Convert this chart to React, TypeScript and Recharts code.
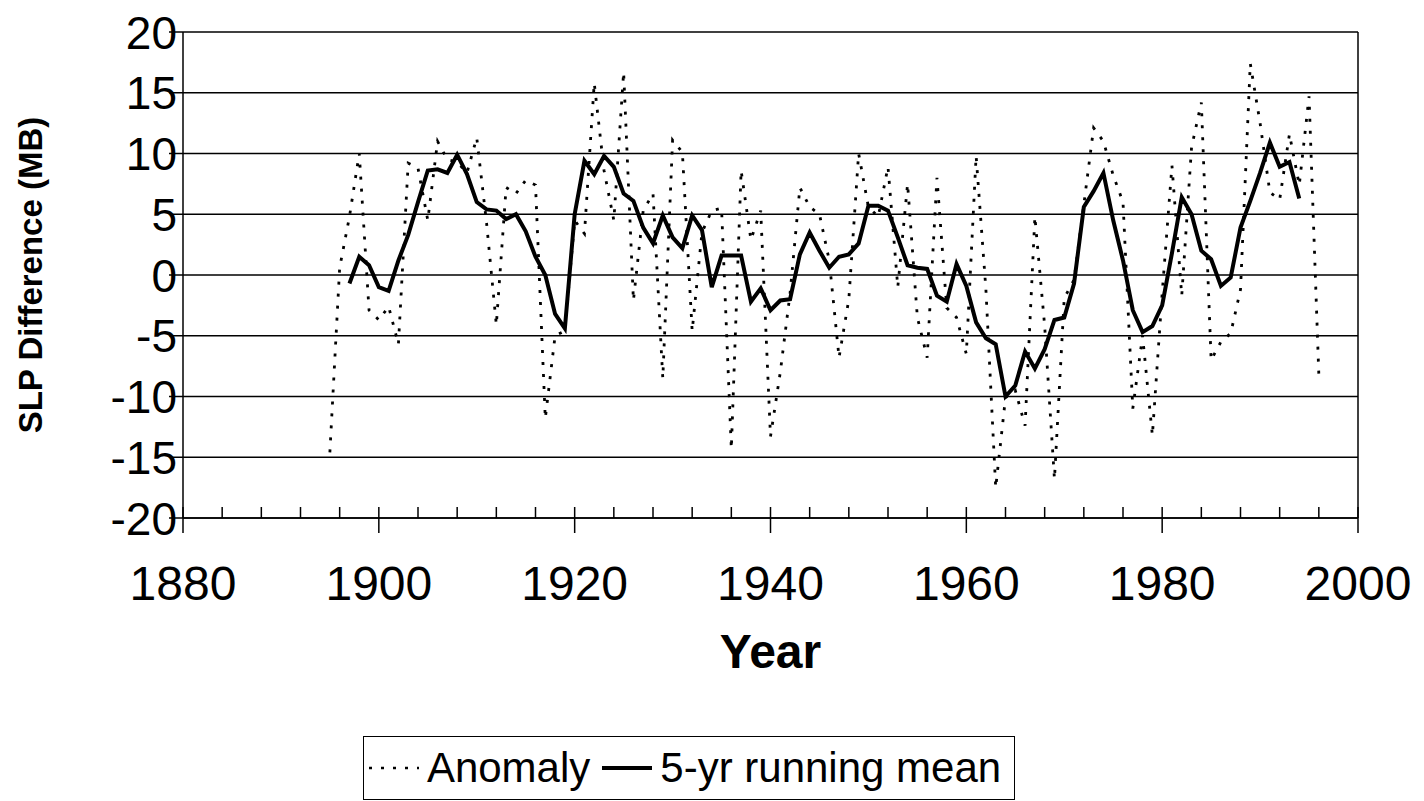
import { CartesianGrid, Legend, Line, LineChart, ReferenceLine, XAxis, YAxis } from "recharts"

// yearly SLP difference anomaly and its 5-yr running mean
const years = [
  1895, 1896, 1897, 1898, 1899, 1900, 1901, 1902, 1903, 1904, 1905, 1906, 1907, 1908, 1909,
  1910, 1911, 1912, 1913, 1914, 1915, 1916, 1917, 1918, 1919, 1920, 1921, 1922, 1923, 1924,
  1925, 1926, 1927, 1928, 1929, 1930, 1931, 1932, 1933, 1934, 1935, 1936, 1937, 1938, 1939,
  1940, 1941, 1942, 1943, 1944, 1945, 1946, 1947, 1948, 1949, 1950, 1951, 1952, 1953, 1954,
  1955, 1956, 1957, 1958, 1959, 1960, 1961, 1962, 1963, 1964, 1965, 1966, 1967, 1968, 1969,
  1970, 1971, 1972, 1973, 1974, 1975, 1976, 1977, 1978, 1979, 1980, 1981, 1982, 1983, 1984,
  1985, 1986, 1987, 1988, 1989, 1990, 1991, 1992, 1993, 1994, 1995, 1996,
]

const anomaly = [
  -14.6, 0.6, 4.8, 10.0, -2.9, -3.7, -2.6, -5.7, 9.2, 8.8, 4.5, 11.0, 9.5, 9.3, 8.4,
  11.3, 4.3, -4.1, 7.2, 6.7, 7.8, 7.4, -11.8, -5.0, -4.6, 4.5, 3.4, 15.8, 8.6, 4.5,
  16.7, -2.1, 5.3, 6.7, -8.5, 11.1, 10.1, -4.6, 3.5, 5.3, 5.5, -14.3, 8.6, 2.9, 5.3,
  -13.3, -8.0, -1.5, 7.2, 5.6, 5.0, 1.2, -6.8, -2.0, 10.0, 5.6, 4.8, 8.9, -1.0, 7.5,
  -3.5, -6.8, 8.0, -2.7, -3.5, -6.5, 9.8, -1.2, -17.5, -10.1, -9.5, -12.4, 4.8, -4.2, -16.8,
  -1.9, -0.4, 5.8, 12.1, 11.0, 8.2, 6.0, -11.0, -5.0, -13.2, -1.5, 9.0, -1.7, 10.5, 14.2,
  -7.0, -5.5, -4.8, -1.2, 17.4, 12.5, 6.8, 6.2, 11.6, 7.4, 14.7, -8.2,
]

const runningMean = [
  null, null, -0.7, 1.5, 0.8, -1.0, -1.3, 1.2, 3.3, 6.0, 8.6, 8.7, 8.4, 9.9, 8.3,
  6.0, 5.4, 5.3, 4.6, 5.0, 3.6, 1.5, 0.0, -3.2, -4.4, 5.0, 9.4, 8.3, 9.8, 8.9,
  6.7, 6.1, 3.9, 2.6, 4.9, 3.1, 2.2, 4.9, 3.7, -1.0, 1.6, 1.6, 1.6, -2.2, -1.1,
  -2.9, -2.1, -2.0, 1.7, 3.5, 2.0, 0.6, 1.5, 1.7, 2.6, 5.7, 5.7, 5.3, 3.1, 0.8,
  0.6, 0.5, -1.7, -2.2, 0.9, -0.9, -3.9, -5.2, -5.7, -10.0, -9.1, -6.3, -7.7, -6.1, -3.7,
  -3.5, -0.7, 5.6, 6.9, 8.4, 4.5, 1.2, -2.9, -4.7, -4.2, -2.5, 1.8, 6.4, 5.0, 2.0,
  1.3, -0.9, -0.2, 3.9, 6.1, 8.4, 10.9, 8.9, 9.3, 6.3, null, null,
]

const xTicks = [
  1880, 1884, 1888, 1892, 1896, 1900, 1904, 1908, 1912, 1916, 1920, 1924, 1928, 1932, 1936,
  1940, 1944, 1948, 1952, 1956, 1960, 1964, 1968, 1972, 1976, 1980, 1984, 1988, 1992, 1996, 2000,
]
const yTicks = [-20, -15, -10, -5, 0, 5, 10, 15, 20]

const seriesNames = ["Anomaly", "5-yr running mean"]

const data = years.map((year, i) => ({ year, anomaly: anomaly[i], mean: runningMean[i] }))

const font = "'Liberation Sans', Arial, Helvetica, sans-serif"

const XTick = ({ x, y, payload }: any) => {
  const major = payload.value % 20 === 0
  return (
    <g>
      <line x1={x} x2={x} y1={y - 11} y2={major ? y + 15 : y} stroke="#000" strokeWidth={1.5} />
      {major && (
        <text x={x} y={y + 82} textAnchor="middle" fontFamily={font} fontSize={48} fill="#000">
          {payload.value}
        </text>
      )}
    </g>
  )
}

const YTick = ({ x, y, payload }: any) => (
  <g>
    <line x1={x - 14} x2={x} y1={y} y2={y} stroke="#000" strokeWidth={1.5} />
    <text x={x - 6} y={y} dy="0.36em" textAnchor="end" fontFamily={font} fontSize={46} fill="#000">
      {payload.value}
    </text>
  </g>
)

const YLabel = ({ viewBox }: any) => {
  const cx = viewBox.x + 42
  const cy = viewBox.y + viewBox.height / 2
  return (
    <text
      x={cx}
      y={cy}
      transform={`rotate(-90 ${cx} ${cy})`}
      textAnchor="middle"
      fontFamily={font}
      fontWeight="bold"
      fontSize={33}
      fill="#000"
    >
      SLP Difference (MB)
    </text>
  )
}

const XLabel = ({ viewBox }: any) => (
  <text
    x={viewBox.x + viewBox.width / 2}
    y={viewBox.y + 150}
    textAnchor="middle"
    fontFamily={font}
    fontWeight="bold"
    fontSize={48}
    fill="#000"
  >
    Year
  </text>
)

const renderLegend = ({ payload }: any) => {
  const items = [...(payload || [])].sort(
    (a: any, b: any) => seriesNames.indexOf(a.value) - seriesNames.indexOf(b.value)
  )
  return (
    <div
      style={{
        boxSizing: "border-box",
        width: "100%",
        height: "100%",
        border: "1.5px solid #000",
        display: "flex",
        alignItems: "center",
        justifyContent: "center",
        fontFamily: font,
        fontSize: 42,
        color: "#000",
        background: "#fff",
      }}
    >
      {items.map((entry: any) => (
        <span key={entry.value} style={{ display: "flex", alignItems: "center", marginRight: 10 }}>
          <svg width={54} height={12} style={{ marginRight: 6 }}>
            <line
              x1={2}
              y1={6}
              x2={52}
              y2={6}
              stroke="#000"
              strokeWidth={entry.payload.strokeDasharray ? 2.5 : 4}
              strokeDasharray={entry.payload.strokeDasharray}
            />
          </svg>
          {entry.value}
        </span>
      ))}
    </div>
  )
}

export default function App() {
  return (
    <div style={{ position: "absolute", left: 0, top: 0, width: 1424, height: 801, background: "#fff" }}>
      <LineChart width={1424} height={801} data={data} margin={{ top: 32, right: 66, bottom: 0, left: 0 }}>
        <CartesianGrid vertical={false} stroke="#000" strokeWidth={1.4} />
        <XAxis
          dataKey="year"
          type="number"
          domain={[1880, 2000]}
          ticks={xTicks}
          interval={0}
          height={283}
          tickSize={0}
          tickMargin={0}
          tickLine={false}
          tick={<XTick />}
          axisLine={{ stroke: "#000", strokeWidth: 1.5 }}
          label={<XLabel />}
        />
        <YAxis
          type="number"
          domain={[-20, 20]}
          ticks={yTicks}
          interval={0}
          width={183}
          tickSize={0}
          tickMargin={0}
          tickLine={false}
          tick={<YTick />}
          axisLine={{ stroke: "#000", strokeWidth: 1.5 }}
          label={<YLabel />}
        />
        <ReferenceLine x={2000} stroke="#000" strokeWidth={1.5} />
        <Legend
          layout="horizontal"
          verticalAlign="middle"
          align="center"
          itemSorter="dataKey"
          content={renderLegend}
          wrapperStyle={{ left: 363, top: 736, width: 652, height: 64 }}
        />
        <Line
          type="linear"
          dataKey="anomaly"
          name="Anomaly"
          stroke="#000"
          strokeWidth={2.8}
          strokeDasharray="3 9"
          dot={false}
          activeDot={false}
          isAnimationActive={false}
        />
        <Line
          type="linear"
          dataKey="mean"
          name="5-yr running mean"
          stroke="#000"
          strokeWidth={4}
          dot={false}
          activeDot={false}
          connectNulls={false}
          isAnimationActive={false}
        />
      </LineChart>
    </div>
  )
}
